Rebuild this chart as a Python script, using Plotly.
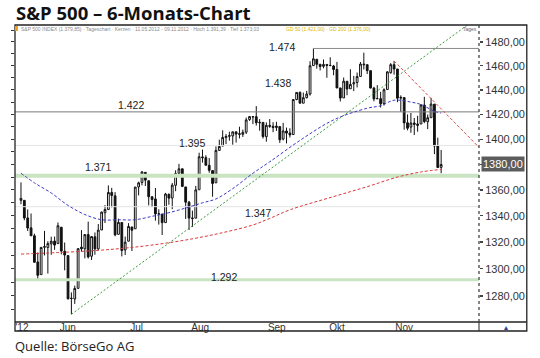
import math
import plotly.graph_objects as go

# ---------------- data ----------------
days_may = [11, 14, 15, 16, 17, 18, 21, 22, 23, 24, 25, 29, 30, 31]
days_jun = [1, 4, 5, 6, 7, 8, 11, 12, 13, 14, 15, 18, 19, 20, 21, 22, 25, 26, 27, 28, 29]
days_jul = [2, 3, 5, 6, 9, 10, 11, 12, 13, 16, 17, 18, 19, 20, 23, 24, 25, 26, 27, 30, 31]
days_aug = [1, 2, 3, 6, 7, 8, 9, 10, 13, 14, 15, 16, 17, 20, 21, 22, 23, 24, 27, 28, 29, 30, 31]
days_sep = [4, 5, 6, 7, 10, 11, 12, 13, 14, 17, 18, 19, 20, 21, 24, 25, 26, 27, 28]
days_oct = [1, 2, 3, 4, 5, 8, 9, 10, 11, 12, 15, 16, 17, 18, 19, 22, 23, 24, 25, 26, 31]
days_nov = [1, 2, 5, 6, 7, 8, 9]
month_days = [(5, days_may), (6, days_jun), (7, days_jul), (8, days_aug),
              (9, days_sep), (10, days_oct), (11, days_nov)]
dates = [f"2012-{m:02d}-{d:02d}" for m, ds in month_days for d in ds]

open_ = [
    1351.9, 1351.9, 1338.4, 1330.8, 1324.8, 1305.1, 1295.7, 1316.1, 1316.0, 1318.7, 1320.8, 1318.9, 1331.3, 1313.1,
    1309.9, 1278.3, 1277.8, 1285.6, 1316.2, 1315.0, 1325.7, 1309.4, 1324.0, 1314.9, 1329.2, 1342.4, 1344.8, 1358.0,
    1355.4, 1325.9, 1334.9, 1314.1, 1320.7, 1331.5, 1330.1,
    1362.3, 1365.8, 1373.7, 1367.1, 1354.7, 1353.0, 1341.4, 1341.3, 1334.8, 1356.5, 1353.7, 1363.6, 1373.0, 1376.5,
    1362.3, 1350.5, 1338.4, 1338.2, 1360.1, 1385.9, 1385.3,
    1379.3, 1375.1, 1365.5, 1391.0, 1394.5, 1401.2, 1402.3, 1402.6, 1405.9, 1404.4, 1403.9, 1405.6, 1415.8, 1417.9,
    1418.1, 1413.1, 1413.5, 1402.0, 1411.1, 1410.4, 1409.3, 1410.1, 1400.1,
    1406.5, 1404.9, 1403.7, 1432.1, 1437.9, 1429.1, 1433.6, 1436.6, 1460.1, 1465.4, 1461.2, 1459.5, 1461.1, 1460.3,
    1459.8, 1456.9, 1441.6, 1433.4, 1447.1,
    1440.9, 1445.0, 1446.1, 1451.1, 1461.4, 1460.9, 1455.9, 1441.5, 1432.8, 1432.8, 1428.8, 1440.3, 1454.2, 1460.9,
    1457.3, 1433.2, 1433.7, 1413.2, 1409.7, 1413.0, 1411.0,
    1412.2, 1427.6, 1414.0, 1417.3, 1428.3, 1394.5, 1377.6]
high = [
    1365.9, 1351.9, 1344.9, 1341.8, 1326.4, 1312.2, 1316.4, 1328.5, 1320.7, 1324.1, 1324.2, 1334.9, 1331.3, 1319.7,
    1309.9, 1282.6, 1287.6, 1315.1, 1329.1, 1325.8, 1335.5, 1324.3, 1327.3, 1333.7, 1343.3, 1348.2, 1363.5, 1361.6,
    1358.3, 1337.8, 1334.9, 1324.2, 1334.4, 1331.5, 1362.2,
    1366.4, 1374.8, 1373.9, 1367.1, 1354.9, 1361.5, 1345.0, 1341.3, 1357.7, 1357.3, 1365.4, 1375.3, 1380.4, 1376.5,
    1362.3, 1351.5, 1344.0, 1363.1, 1389.2, 1391.7, 1387.2,
    1385.0, 1375.1, 1394.2, 1399.6, 1407.1, 1404.1, 1406.0, 1406.0, 1405.9, 1410.0, 1407.7, 1417.4, 1418.7, 1418.1,
    1426.7, 1416.1, 1413.5, 1413.5, 1416.2, 1413.6, 1414.0, 1410.1, 1413.1,
    1409.3, 1408.8, 1432.1, 1437.9, 1438.7, 1437.8, 1439.2, 1463.8, 1474.5, 1465.6, 1461.5, 1465.2, 1461.2, 1467.1,
    1460.7, 1463.2, 1441.6, 1450.2, 1447.1,
    1457.1, 1451.5, 1454.3, 1463.1, 1471.0, 1460.9, 1455.9, 1442.5, 1443.9, 1438.4, 1441.3, 1455.5, 1462.2, 1464.0,
    1457.3, 1435.5, 1433.7, 1420.0, 1421.1, 1417.1, 1418.8,
    1428.4, 1434.3, 1419.9, 1433.4, 1428.3, 1401.2, 1391.4]
low = [
    1348.9, 1336.6, 1328.4, 1324.8, 1304.8, 1292.0, 1295.7, 1310.0, 1296.5, 1310.5, 1314.2, 1318.9, 1310.8, 1298.9,
    1277.3, 1266.7, 1274.2, 1285.6, 1312.7, 1307.8, 1307.7, 1306.6, 1310.5, 1314.1, 1329.2, 1334.5, 1344.8, 1346.5,
    1324.4, 1325.9, 1309.3, 1310.3, 1320.7, 1313.3, 1330.1,
    1355.7, 1363.5, 1363.0, 1348.0, 1346.7, 1336.3, 1333.3, 1325.4, 1334.8, 1348.5, 1345.1, 1359.0, 1371.2, 1362.2,
    1337.6, 1329.2, 1331.5, 1338.2, 1360.1, 1381.4, 1379.2,
    1373.4, 1354.7, 1365.5, 1391.0, 1394.5, 1396.1, 1398.8, 1395.6, 1397.3, 1400.6, 1401.8, 1404.2, 1414.7, 1412.1,
    1410.9, 1406.8, 1400.5, 1398.0, 1409.1, 1405.6, 1406.6, 1397.0, 1399.0,
    1396.6, 1401.3, 1403.7, 1431.5, 1429.0, 1429.1, 1433.0, 1435.3, 1460.1, 1457.6, 1456.1, 1457.9, 1450.0, 1459.5,
    1452.1, 1441.5, 1430.5, 1433.4, 1435.6,
    1440.9, 1439.0, 1442.0, 1451.1, 1456.9, 1453.1, 1441.2, 1430.6, 1432.8, 1425.5, 1427.2, 1440.3, 1453.4, 1452.6,
    1429.9, 1422.1, 1407.6, 1407.1, 1405.1, 1403.3, 1406.0,
    1412.2, 1412.9, 1408.1, 1417.3, 1388.1, 1377.4, 1373.0]
close = [
    1353.4, 1338.4, 1330.7, 1324.8, 1304.9, 1295.2, 1316.0, 1316.6, 1318.9, 1320.7, 1317.8, 1332.4, 1313.3, 1310.3,
    1278.0, 1278.2, 1285.5, 1315.1, 1315.0, 1325.7, 1308.9, 1324.2, 1314.9, 1329.1, 1342.8, 1344.8, 1358.0, 1355.7,
    1325.5, 1335.0, 1313.7, 1320.0, 1331.9, 1329.0, 1362.2,
    1365.5, 1374.0, 1367.6, 1354.7, 1352.5, 1341.5, 1341.5, 1334.8, 1356.8, 1353.6, 1363.7, 1372.8, 1376.5, 1362.7,
    1350.5, 1338.3, 1337.9, 1360.0, 1386.0, 1385.3, 1379.3,
    1375.3, 1365.0, 1391.0, 1394.2, 1401.4, 1402.2, 1402.8, 1405.9, 1404.1, 1403.9, 1405.5, 1415.5, 1418.2, 1418.1,
    1413.2, 1413.5, 1402.1, 1411.1, 1410.4, 1409.3, 1410.5, 1399.5, 1406.6,
    1404.9, 1403.4, 1432.1, 1437.9, 1429.1, 1433.6, 1436.6, 1460.0, 1465.8, 1461.2, 1459.3, 1461.1, 1460.3, 1460.2,
    1456.9, 1441.6, 1433.3, 1447.2, 1440.7,
    1444.5, 1445.8, 1451.0, 1461.4, 1460.9, 1455.9, 1441.5, 1432.6, 1432.8, 1428.6, 1440.1, 1454.9, 1460.9, 1457.3,
    1433.2, 1433.8, 1413.1, 1408.8, 1413.0, 1411.9, 1412.2,
    1427.6, 1414.2, 1417.3, 1428.4, 1394.5, 1377.5, 1379.9]

# moving averages at sample dates
gd50_dates = ["2012-05-11", "2012-05-17", "2012-05-24", "2012-06-01", "2012-06-08", "2012-06-15", "2012-06-22",
              "2012-06-29", "2012-07-09", "2012-07-16", "2012-07-23", "2012-07-30", "2012-08-03", "2012-08-10",
              "2012-08-20", "2012-08-27", "2012-09-10", "2012-09-24", "2012-10-08", "2012-10-12", "2012-10-18",
              "2012-10-25", "2012-11-01", "2012-11-07", "2012-11-09"]
gd50_vals = [1373, 1365.5, 1357.6, 1348, 1341, 1337, 1337, 1337, 1339.6, 1342.4, 1346, 1350, 1353, 1361,
             1373, 1382, 1399, 1415.5, 1425, 1427, 1431.5, 1430, 1428, 1422.5, 1421]
gd200_dates = ["2012-05-11", "2012-06-01", "2012-06-15", "2012-06-26", "2012-07-09", "2012-07-23", "2012-08-06",
               "2012-08-20", "2012-08-27", "2012-09-05", "2012-09-24", "2012-10-08", "2012-10-19", "2012-11-01",
               "2012-11-09"]
gd200_vals = [1311, 1312.5, 1314, 1315.5, 1317.8, 1321.6, 1326.6, 1333, 1338, 1344.6, 1354.8, 1362.5, 1370,
              1374, 1376]

# trend lines: anchor points (date, price)
trend_up = [("2012-06-04", 1266.7), ("2012-11-08", 1476.0)]
trend_down = [("2012-10-18", 1464.0), ("2012-11-09", 1424.5)]

# horizontal levels
level_labels = ["1.474", "1.438", "1.422", "1.395", "1.371", "1.347", "1.292"]
level_vals = [1474.5, 1438, 1422, 1395, 1371, 1347, 1292]
level_474_start = "2012-09-14"

y_tick_vals = [1280, 1300, 1320, 1340, 1360, 1380, 1400, 1420, 1440, 1460, 1480]
last_price = 1380
x_tick_labels = ["'12", "Jun", "Jul", "Aug", "Sep", "Okt", "Nov"]

# ---------------- layout helpers ----------------
W, H = 540, 358
L, R, T, B = 13, 479, 25, 322          # plot area in pixels
def pxx(x): return (x - L) / (R - L)
def pxy(y): return (B - y) / (B - T)

idx = {d: i for i, d in enumerate(dates)}
xs = list(range(len(dates)))
x_rng = [-1.777, 136.26]
y_rng = [math.log10(1261.1), math.log10(1494.4)]

FONT = "Liberation Sans, Arial, sans-serif"

fig = go.Figure()

# faint level lines
for v in (1395, 1347):
    fig.add_trace(go.Scatter(x=[x_rng[0], x_rng[1]], y=[v, v], mode="lines",
                             line=dict(color="#e4e4e4", width=1), hoverinfo="skip"))
# green support bands
fig.add_trace(go.Scatter(x=[x_rng[0], x_rng[1]], y=[1371, 1371], mode="lines",
                         line=dict(color="#c9e4c2", width=4), hoverinfo="skip"))
fig.add_trace(go.Scatter(x=[x_rng[0], x_rng[1]], y=[1292, 1292], mode="lines",
                         line=dict(color="#c9e4c2", width=3), hoverinfo="skip"))
# 1.422 line
fig.add_trace(go.Scatter(x=[x_rng[0], x_rng[1]], y=[1422, 1422], mode="lines",
                         line=dict(color="#7a7a7a", width=1), hoverinfo="skip"))
# 1.474 line from the top
s474 = idx[level_474_start]
fig.add_trace(go.Scatter(x=[s474, s474, x_rng[1]], y=[high[s474], 1474.5, 1474.5], mode="lines",
                         line=dict(color="#8a8a8a", width=1), hoverinfo="skip"))

# moving averages
fig.add_trace(go.Scatter(x=[idx[d] for d in gd200_dates], y=gd200_vals, mode="lines",
                         line=dict(color="#d83a3a", width=1, dash="3px,2px", shape="spline"),
                         hoverinfo="skip"))
fig.add_trace(go.Scatter(x=[idx[d] for d in gd50_dates], y=gd50_vals, mode="lines",
                         line=dict(color="#3a3ac8", width=1, dash="3px,2px", shape="spline"),
                         hoverinfo="skip"))

# trend lines (extended to the right plot edge in log space)
def extend(anchors, x_end):
    (d0, p0), (d1, p1) = anchors
    i0, i1 = idx[d0], idx[d1]
    k = (math.log10(p1) - math.log10(p0)) / (i1 - i0)
    return [i0, x_end], [p0, 10 ** (math.log10(p0) + k * (x_end - i0))]

tx, ty = extend(trend_up, x_rng[1])
fig.add_trace(go.Scatter(x=tx, y=ty, mode="lines", line=dict(color="#3c9a3c", width=1, dash="2px,2px"),
                         hoverinfo="skip"))
tx, ty = extend(trend_down, x_rng[1])
fig.add_trace(go.Scatter(x=tx, y=ty, mode="lines", line=dict(color="#e04848", width=1, dash="3px,2px"),
                         hoverinfo="skip"))

# candles
fig.add_trace(go.Candlestick(
    x=xs, open=open_, high=high, low=low, close=close,
    increasing=dict(fillcolor="#ffffff", line=dict(color="#111111", width=1)),
    decreasing=dict(fillcolor="#111111", line=dict(color="#111111", width=1)),
    whiskerwidth=0, hoverinfo="skip", showlegend=False))

# invisible trace for left tick axis
fig.add_trace(go.Scatter(x=[0], y=[1380], yaxis="y2", mode="markers", marker=dict(opacity=0),
                         hoverinfo="skip"))

# ---------------- annotations ----------------
ann = []
ann.append(dict(text="<b>S&P 500 – 6-Monats-Chart</b>", xref="paper", yref="paper",
                x=pxx(12), y=pxy(12.5), xanchor="left", yanchor="middle", showarrow=False,
                font=dict(family="Open Sans", size=18.5, color="#111111")))
ann.append(dict(text="Quelle: BörseGo AG", xref="paper", yref="paper",
                x=pxx(11), y=pxy(346), xanchor="left", yanchor="middle", showarrow=False,
                font=dict(family="Open Sans", size=13, color="#222222")))
ann.append(dict(text="S&P 500 INDEX (1.379,85) &#183; Tageschart &#183; Kerzen &#183; 11.05.2012 - 09.11.2012 &#183; "
                     "Hoch 1.391,39 &#183; Tief 1.373,03",
                xref="paper", yref="paper", x=pxx(17), y=pxy(29), xanchor="left", yanchor="middle",
                showarrow=False, font=dict(family=FONT, size=5, color="#8a8a8a")))
ann.append(dict(text="GD 50 (1.421,00) &#183; GD 200 (1.376,00)",
                xref="paper", yref="paper", x=pxx(283), y=pxy(29), xanchor="left", yanchor="middle",
                showarrow=False, font=dict(family=FONT, size=5, color="#d8b400")))
ann.append(dict(text="Tages", xref="paper", yref="paper", x=pxx(470), y=pxy(28.5), xanchor="center",
                yanchor="middle", showarrow=False, font=dict(family=FONT, size=5, color="#666666")))
ann.append(dict(text="▴", xref="paper", yref="paper", x=pxx(506), y=pxy(327), xanchor="center",
                yanchor="middle", showarrow=False, font=dict(family="DejaVu Sans", size=8, color="#2a3f9a")))

label_pos = {"1.474": (281, 47), "1.438": (277, 83), "1.422": (130, 105), "1.395": (191, 143),
             "1.371": (96, 167), "1.347": (257, 213), "1.292": (223, 277)}
for lab in level_labels:
    px_, py_ = label_pos[lab]
    ann.append(dict(text=lab, xref="paper", yref="paper", x=pxx(px_), y=pxy(py_), xanchor="center",
                    yanchor="middle", showarrow=False, font=dict(family=FONT, size=10.5, color="#222222")))

# highlighted last price on the axis
ann.append(dict(text=f"{last_price:.2f}".replace(".", ","), xref="paper", yref="y",
                x=pxx(481), y=math.log10(last_price), xanchor="left", yanchor="middle", showarrow=False,
                bgcolor="#5c5c5c", borderpad=1, font=dict(family=FONT, size=11, color="#ffffff")))

# ---------------- frame shapes ----------------
shapes = [
    dict(type="rect", xref="paper", yref="paper", x0=0, x1=pxx(527), y0=pxy(331), y1=1,
         line=dict(color="#222222", width=1.3)),
    dict(type="line", xref="paper", yref="paper", x0=0, x1=pxx(527), y0=0, y1=0,
         line=dict(color="#222222", width=1.3)),
    dict(type="line", xref="paper", yref="paper", x0=1, x1=1, y0=pxy(331), y1=0,
         line=dict(color="#222222", width=1)),
    dict(type="line", xref="paper", yref="paper", x0=1, x1=1, y0=0, y1=1,
         line=dict(color="#444444", width=1.3, dash="dot")),
    dict(type="rect", xref="paper", yref="paper", x0=0, x1=pxx(16), y0=pxy(31), y1=pxy(26),
         fillcolor="#f0a020", line=dict(width=0)),
]

y_tick_text = ["" if v == last_price else f"{v:.2f}".replace(".", ",") for v in y_tick_vals]
x_tick_pos = [0.3, 13.9, 34.4, 53.3, 76.1, 94.0, 114.0]

fig.update_layout(
    width=W, height=H, autosize=False,
    margin=dict(l=L, r=W - R, t=T, b=H - B, pad=0),
    paper_bgcolor="white", plot_bgcolor="white",
    showlegend=False, annotations=ann, shapes=shapes, boxgap=0.25,
    xaxis=dict(range=x_rng, showgrid=False, zeroline=False, showline=False,
               tickmode="array", tickvals=x_tick_pos, ticktext=x_tick_labels, ticks="",
               tickfont=dict(family=FONT, size=10, color="#333333"), ticklabelstandoff=-2,
               rangeslider=dict(visible=False), fixedrange=True),
    yaxis=dict(type="log", range=y_rng, side="right", showgrid=False, zeroline=False, showline=False,
               tickmode="array", tickvals=y_tick_vals, ticktext=y_tick_text,
               ticks="outside", ticklen=3, tickcolor="#444444", tickwidth=1.3,
               tickfont=dict(family=FONT, size=11, color="#333333"), fixedrange=True),
    yaxis2=dict(type="log", range=y_rng, overlaying="y", side="left", showgrid=False, zeroline=False,
                showline=False, showticklabels=False, tickmode="array",
                tickvals=list(range(1270, 1500, 10)), ticks="outside", ticklen=3,
                tickcolor="#333333", tickwidth=1, fixedrange=True),
)

fig.write_html("out.html", config={"displayModeBar": False, "staticPlot": True},
               post_script="document.body.style.margin='0';document.body.style.overflow='hidden';")
